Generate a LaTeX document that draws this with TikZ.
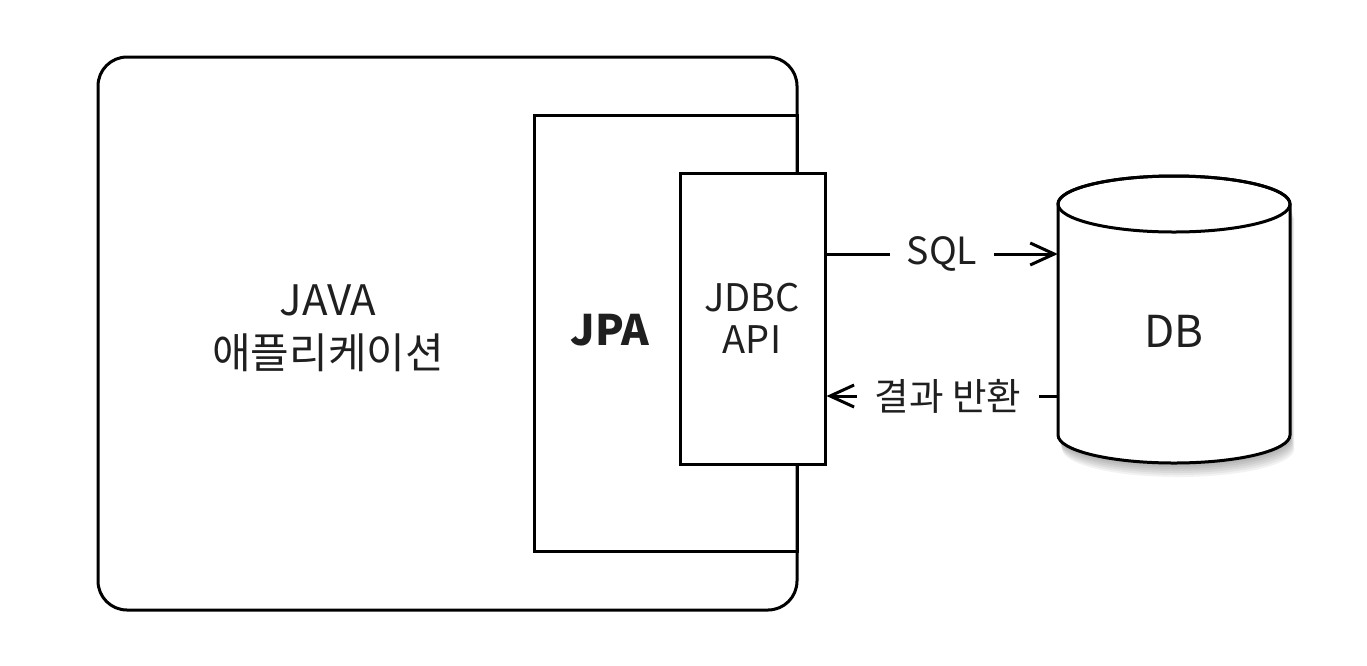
\documentclass[tikz,border=0pt]{standalone}
\usepackage{fontspec}
\setmainfont{Noto Sans CJK KR}
\usetikzlibrary{arrows.meta}
\begin{document}
\begin{tikzpicture}[x=1pt,y=-1pt,
  frame/.style={draw=black,line width=3pt,inner sep=0pt},
  txt/.style={inner sep=0pt,align=center,text=black!88},
  lbl/.style={inner ysep=0pt,inner xsep=17pt,text=black!88,font=\fontsize{37.5}{40}\selectfont},
  conn/.style={draw=black,line width=3pt},
  tip/.style={-{Straight Barb[length=24pt,width=22pt,line width=3pt]}}
]
\useasboundingbox (0,0) rectangle (1367,665);
% application frame
\node[frame,rounded corners=29pt,minimum width=699pt,minimum height=553pt] (app) at (447.5,333.5) {};
\node[txt,font=\fontsize{42}{53}\selectfont] (apptxt) at (328,328) {JAVA\\애플리케이션};
% JPA
\node[frame,minimum width=263pt,minimum height=436pt] (jpa) at (665.5,333) {};
\node[txt,font=\fontsize{42}{46}\bfseries\selectfont] (jpatxt) at (610,330) {JPA};
% JDBC
\node[frame,fill=white,minimum width=145pt,minimum height=291pt] (jdbc) at (752.5,318.5) {};
\node[txt,font=\fontsize{38}{42}\selectfont] (jdbctxt) at (752,318) {JDBC\\API};
% DB cylinder
\foreach \k in {2,4,...,14}{
  \fill[black,opacity=0.05] (1058+0.3*\k,204+\k) -- (1058+0.3*\k,435+\k)
    arc[start angle=180,end angle=360,x radius=116pt,y radius=28pt] -- (1290+0.3*\k,204+\k) -- cycle;
}
\node[minimum width=232pt,minimum height=288pt,inner sep=0pt] (db) at (1174,319) {};
\draw[line width=3pt,fill=white] (1058,204) -- (1058,435)
   arc[start angle=180,end angle=360,x radius=116pt,y radius=28pt] -- (1290,204)
   arc[start angle=0,end angle=180,x radius=116pt,y radius=28pt] -- cycle;
\draw[line width=3pt] (1174,204) ellipse[x radius=116pt,y radius=28pt];
\node[txt,font=\fontsize{44}{48}\selectfont] (dbtxt) at (1174,331) {DB};
% connectors
\node[lbl] (sql) at (942,254) {SQL};
\draw[conn] (jdbc.east |- sql) -- (sql.west);
\draw[conn,tip] (sql.east) -- (db.west |- sql);
\node[lbl,inner xsep=18pt] (ret) at (948,396) {결과 반환};
\draw[conn] (db.west |- ret) -- (ret.east);
\draw[conn,tip] (ret.west) -- (jdbc.east |- ret);
\end{tikzpicture}
\end{document}
